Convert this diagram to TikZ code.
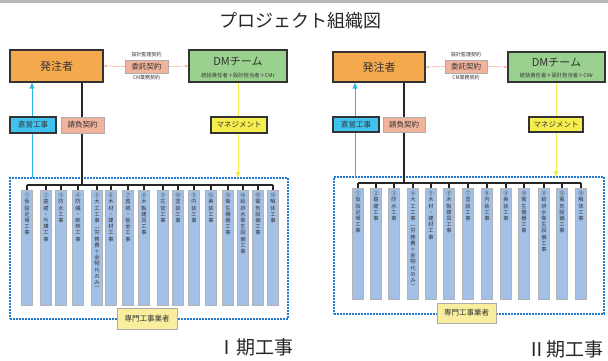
\documentclass[tikz,border=0pt]{standalone}
\usepackage{fontspec}
\setmainfont{Noto Sans CJK JP}
\usetikzlibrary{arrows.meta}
\definecolor{cOrange}{HTML}{F5A94D}
\definecolor{cSalmon}{HTML}{F2B39C}
\definecolor{cGreen}{HTML}{9BD18F}
\definecolor{cCyan}{HTML}{3FC3EE}
\definecolor{cYellow}{HTML}{F6EE4E}
\definecolor{cPale}{HTML}{F8EE9E}
\definecolor{cBar}{HTML}{A3C1E7}
\definecolor{cDot}{HTML}{2079D2}
\definecolor{cLine}{HTML}{2AB6EC}
\definecolor{cYLine}{HTML}{F4E84A}
\definecolor{cTxt}{HTML}{333333}
\makeatletter
\newcommand\vstk[1]{\vbox{\baselineskip=6.2pt\lineskiplimit=-20pt\lineskip=0pt\@tfor\vch:=#1\do{\hbox to 8pt{\hss\vch\hss}}}}
\makeatother
\tikzset{
  darkbox/.style={draw=black!80, line width=1.1pt, inner sep=0pt, text=cTxt},
  graybox/.style={draw=gray!65, line width=1pt, inner sep=0pt, text=cTxt},
  barbox/.style={draw=gray!60, fill=cBar, line width=0.7pt, minimum width=11pt, inner sep=0pt},
  bartext/.style={inner sep=0pt, text=cTxt, font=\fontsize{5.3}{6}\selectfont},
  busline/.style={draw=black!85, line width=1.4pt},
  dotbox/.style={draw=cDot, line width=1.8pt, dash pattern=on 1.6pt off 1.4pt, inner sep=0pt},
  smalltxt/.style={inner sep=0pt, text=cTxt, font=\fontsize{5}{6}\selectfont},
  conline/.style={draw=cSalmon, line width=0.6pt, -{Triangle[length=3pt,width=2.5pt]}},
  cyanline/.style={draw=cLine, line width=1pt, -{Triangle[length=6pt,width=4.5pt]}},
  yline/.style={draw=cYLine, line width=0.9pt, -{Triangle[length=6pt,width=4.5pt]}},
  phasetxt/.style={inner sep=0pt, text=black!85, font=\fontsize{19}{21}\selectfont}
}
\begin{document}
\begin{tikzpicture}[x=1pt,y=-1pt]
\useasboundingbox (0,0) rectangle (608,360);
\fill[gray!55] (0,0) rectangle (608,2.5);
\node[inner sep=0pt, font=\fontsize{18}{20}\selectfont, text=black!85] (title) at (300,21) {プロジェクト組織図};

% ================= Phase I =================
\node[dotbox, minimum width=278pt, minimum height=141pt] (dots1) at (149,248.5) {};
\coordinate (k1) at (82,185);
\coordinate (c1) at (32,178);
\coordinate (y1) at (238,178);
\node[darkbox, fill=cOrange, minimum width=93pt, minimum height=32pt, font=\fontsize{11}{13}\selectfont] (hatchu1) at (56.5,66) {発注者};
\node[graybox, fill=cSalmon, minimum width=43pt, minimum height=13pt, font=\fontsize{7.5}{9}\selectfont] (itaku1) at (146.5,66.5) {委託契約};
\node[smalltxt] (kanri1) at (146.5,55) {設計監理契約};
\node[smalltxt] (cm1) at (146.5,78) {CM業務契約};
\node[darkbox, fill=cGreen, minimum width=98pt, minimum height=32pt] (dm1) at (238,66) {};
\node[inner sep=0pt, text=cTxt, font=\fontsize{11}{13}\selectfont] (dmt1) at (238,61) {DMチーム};
\node[smalltxt, font=\fontsize{5.3}{6}\selectfont] (dms1) at (238,75) {統括責任者＋設計担当者＋CMr};
\draw[conline] (itaku1.west) -- (hatchu1.east);
\draw[conline] (itaku1.east) -- (dm1.west);
\draw[busline] (k1) -- (k1 |- hatchu1.south);
\draw[cyanline] (c1) -- (c1 |- hatchu1.south);
\draw[yline] (y1 |- dm1.south) -- (y1);
\node[darkbox, fill=cCyan, minimum width=46pt, minimum height=16pt, font=\fontsize{7.5}{9}\selectfont] (chokuei1) at (33,125) {直営工事};
\node[graybox, fill=cSalmon, minimum width=43pt, minimum height=16pt, font=\fontsize{7.5}{9}\selectfont] (ukeoi1) at (82.5,125) {請負契約};
\node[darkbox, fill=cYellow, minimum width=56pt, minimum height=16pt, font=\fontsize{7.5}{9}\selectfont] (mgmt1) at (239,125) {マネジメント};
\foreach \i/\x/\t in {1/27/①仮設足場工事, 2/46/②基礎・外構工事, 3/61/③防水工事, 4/78/④防蟻・断熱工事,
  5/97/⑤大工工事︵労務費＋金物代のみ︶, 6/111/⑥木材・建材工事, 7/128/⑦屋根・板金工事, 8/144/⑧木製建具工事,
  9/163/⑨左官工事, 10/178/⑩塗装工事, 11/194/⑪内装工事, 12/211/⑫美装工事,
  13/228/⑬衛生機器工事, 14/243/⑭給排水衛生設備工事, 15/258/⑮電気設備工事, 16/273/⑯解体工事}{
  \node[barbox, minimum height=115pt, anchor=north] (a\i) at (\x,190) {};
  \node[bartext, anchor=north] (at\i) at ([yshift=-3pt]a\i.north) {\expandafter\vstk\expandafter{\t}};
  \draw[busline, line width=1.1pt] (a\i.north) -- (a\i.north |- k1);
}
\draw[busline] (a1.north |- k1) -- (a16.north |- k1);
\node[graybox, fill=cPale, minimum width=60pt, minimum height=21pt, font=\fontsize{7.5}{9}\selectfont] (senmon1) at (147,318.5) {専門工事業者};
\node[phasetxt] (ki1) at (255,347) {Ⅰ期工事};

% ================= Phase II =================
\node[dotbox, minimum width=270pt, minimum height=137pt] (dots2) at (469,245.5) {};
\coordinate (k2) at (404,183);
\coordinate (c2) at (355,177);
\coordinate (y2) at (556,177);
\node[darkbox, fill=cOrange, minimum width=92pt, minimum height=30pt, font=\fontsize{11}{13}\selectfont] (hatchu2) at (379,67) {発注者};
\node[graybox, fill=cSalmon, minimum width=42pt, minimum height=13pt, font=\fontsize{7.5}{9}\selectfont] (itaku2) at (466,66.5) {委託契約};
\node[smalltxt] (kanri2) at (466,55) {設計監理契約};
\node[smalltxt] (cm2) at (466,78) {CM業務契約};
\node[darkbox, fill=cGreen, minimum width=97pt, minimum height=30pt] (dm2) at (556.5,67) {};
\node[inner sep=0pt, text=cTxt, font=\fontsize{11}{13}\selectfont] (dmt2) at (556.5,62) {DMチーム};
\node[smalltxt, font=\fontsize{5.3}{6}\selectfont] (dms2) at (556.5,75.5) {統括責任者＋設計担当者＋CMr};
\draw[conline] (itaku2.west) -- (hatchu2.east);
\draw[conline] (itaku2.east) -- (dm2.west);
\draw[busline] (k2) -- (k2 |- hatchu2.south);
\draw[cyanline] (c2) -- (c2 |- hatchu2.south);
\draw[yline] (y2 |- dm2.south) -- (y2);
\node[darkbox, fill=cCyan, minimum width=46pt, minimum height=15pt, font=\fontsize{7.5}{9}\selectfont] (chokuei2) at (356,124.5) {直営工事};
\node[graybox, fill=cSalmon, minimum width=42pt, minimum height=15pt, font=\fontsize{7.5}{9}\selectfont] (ukeoi2) at (404,124.5) {請負契約};
\node[darkbox, fill=cYellow, minimum width=54pt, minimum height=15pt, font=\fontsize{7.5}{9}\selectfont] (mgmt2) at (556,124.5) {マネジメント};
\foreach \i/\x/\t in {1/358/①仮設足場工事, 2/376/②基礎工事, 3/394/③防水工事,
  4/413/④大工工事︵労務費＋金物代のみ︶, 5/431/⑤木材・建材工事, 6/449/⑥木製建具工事, 7/468/⑦塗装工事,
  8/487/⑧内装工事, 9/506/⑨美装工事, 10/524/⑩衛生機器工事, 11/544/⑪給排水衛生設備工事,
  12/562/⑫電気設備工事, 13/581/⑬解体工事}{
  \node[barbox, minimum height=111pt, anchor=north] (b\i) at (\x,188) {};
  \node[bartext, anchor=north] (bt\i) at ([yshift=-3pt]b\i.north) {\expandafter\vstk\expandafter{\t}};
  \draw[busline, line width=1.1pt] (b\i.north) -- (b\i.north |- k2);
}
\draw[busline] (b1.north |- k2) -- (b13.north |- k2);
\node[graybox, fill=cPale, minimum width=59pt, minimum height=20pt, font=\fontsize{7.5}{9}\selectfont] (senmon2) at (466.5,313) {専門工事業者};
\node[phasetxt] (ki2) at (565,349) {Ⅱ期工事};
\end{tikzpicture}
\end{document}
